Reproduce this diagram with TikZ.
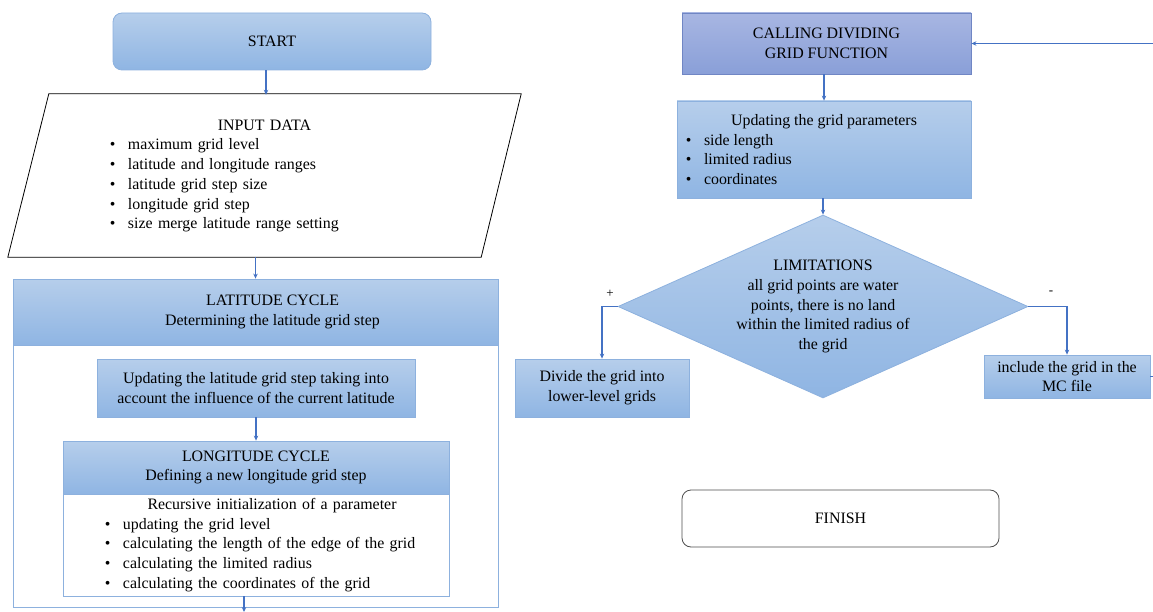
\documentclass[tikz,border=0pt]{standalone}
\usepackage{fontspec}
\setmainfont{Liberation Serif}
\usepackage{xcolor}
\definecolor{boxtop}{RGB}{182,206,235}
\definecolor{boxbottom}{RGB}{143,181,227}
\definecolor{boxline}{RGB}{141,177,222}
\definecolor{calltop}{RGB}{168,182,226}
\definecolor{callbottom}{RGB}{137,159,216}
\definecolor{callline}{RGB}{112,134,196}
\definecolor{arrowblue}{RGB}{68,114,196}
\usepackage{tikz}
\usetikzlibrary{shapes.geometric,arrows.meta}
\newcommand{\bpoint}[1]{\par\leavevmode\llap{\textbullet\hspace{12.5pt}}#1}

\begin{document}
\begin{tikzpicture}[x=1pt,y=-1pt,
    every node/.style={font=\fontsize{15.9}{19.7}\selectfont},
    blockbox/.style={rectangle, draw=boxline, line width=0.8pt, top color=boxtop, bottom color=boxbottom, inner sep=0pt, align=center},
    plainbox/.style={rectangle, draw=boxline, line width=0.8pt, fill=white, inner sep=0pt},
    decision/.style={diamond, draw=boxline, line width=0.8pt, top color=boxtop, bottom color=boxbottom, inner sep=0pt, align=center},
    flow/.style={draw=arrowblue, line width=1.1pt, -{Stealth[length=5pt,width=4.5pt]}}
  ]
  \useasboundingbox (0,0) rectangle (1153,612);

  % left column
  \node[blockbox, rounded corners=9pt, minimum width=318pt, minimum height=57pt] (start) at (272,41.5) {START};
  \node[rectangle, inner sep=0pt, minimum width=513pt, minimum height=162pt, text width=513pt] (input) at (264.5,176)
    {{\centering INPUT DATA\par}\raggedright\leftskip=120pt
     \bpoint{maximum grid level}
     \bpoint{latitude and longitude ranges}
     \bpoint{latitude grid step size}
     \bpoint{longitude grid step}
     \bpoint{size merge latitude range setting}\par};
  \draw[line width=0.8pt] ([xshift=41pt,yshift=1pt]input.north west) -- ([yshift=1pt]input.north east)
    -- ([xshift=-40pt]input.south east) -- (input.south west) -- cycle;

  \node[plainbox, minimum width=485pt, minimum height=262pt] (latbody) at (255.5,476) {};
  \node[blockbox, minimum width=485pt, minimum height=66pt] (lathead) at (255.5,312)
    {\hspace*{34pt}LATITUDE CYCLE\\\hspace*{34pt}Determining the latitude grid step};
  \node[blockbox, minimum width=318pt, minimum height=58pt] (uplat) at (256,388)
    {Updating the latitude grid step taking into\\account the influence of the current latitude};
  \node[plainbox, minimum width=386pt, minimum height=102pt, text width=386pt] (lonbody) at (256,545)
    {{\centering\hspace*{32pt}Recursive initialization of a parameter\par}\raggedright\leftskip=60pt
     \bpoint{updating the grid level}
     \bpoint{calculating the length of the edge of the grid}
     \bpoint{calculating the limited radius}
     \bpoint{calculating the coordinates of the grid}\par};
  \node[blockbox, minimum width=386pt, minimum height=53pt] (lonhead) at (256,467.5)
    {LONGITUDE CYCLE\\Defining a new longitude grid step};
  \coordinate (lonexit) at (244,612);

  \draw[flow] ([xshift=-6pt]start.south) -- ([xshift=1.5pt]input.north);
  \draw[flow] (lathead.north |- input.south) -- (lathead.north);
  \draw[flow] (uplat.south) -- (lonhead.north);
  \draw[flow] (lonexit |- lonbody.south) -- (lonexit);

  % right column
  \node[blockbox, draw=callline, top color=calltop, bottom color=callbottom, minimum width=289pt, minimum height=61pt] (call) at (826.5,43.5)
    {CALLING DIVIDING\\GRID FUNCTION};
  \coordinate (callin) at (1153,43.5);
  \node[blockbox, minimum width=294pt, minimum height=97pt, text width=294pt, align=none] (upgrid) at (824,149.5)
    {{\centering Updating the grid parameters\par}\raggedright\leftskip=27pt
     \bpoint{side length}
     \bpoint{limited radius}
     \bpoint{coordinates}\par};
  \node[decision, shape aspect=2.24, minimum width=410pt, minimum height=183pt] (limits) at (823,306.5)
    {LIMITATIONS\\all grid points are water\\points, there is no land\\within the limited radius of\\the grid};
  \node[blockbox, minimum width=174pt, minimum height=58pt] (divide) at (602,388)
    {Divide the grid into\\lower-level grids};
  \node[blockbox, minimum width=166pt, minimum height=43pt] (include) at (1067,376.5)
    {include the grid in the\\MC file};
  \coordinate (incout) at (1153,376.5);
  \node[rectangle, rounded corners=9pt, draw=black!70, line width=0.8pt, minimum width=317pt, minimum height=57pt] (finish) at (840.5,518.5) {FINISH};
  \node[font=\fontsize{13}{15}\selectfont] (plus) at (610,294) {+};
  \node[font=\fontsize{13}{15}\selectfont] (minus) at (1051,293) {-};

  \draw[flow] (callin) -- (call.east);
  \draw[flow] (upgrid.north |- call.south) -- (upgrid.north);
  \draw[flow] (limits.north |- upgrid.south) -- (limits.north);
  \draw[flow] (limits.west) -| (divide.north);
  \draw[flow] (limits.east) -| (include.north);
  \draw[draw=arrowblue, line width=0.8pt] (include.east) -- (incout);
\end{tikzpicture}
\end{document}
